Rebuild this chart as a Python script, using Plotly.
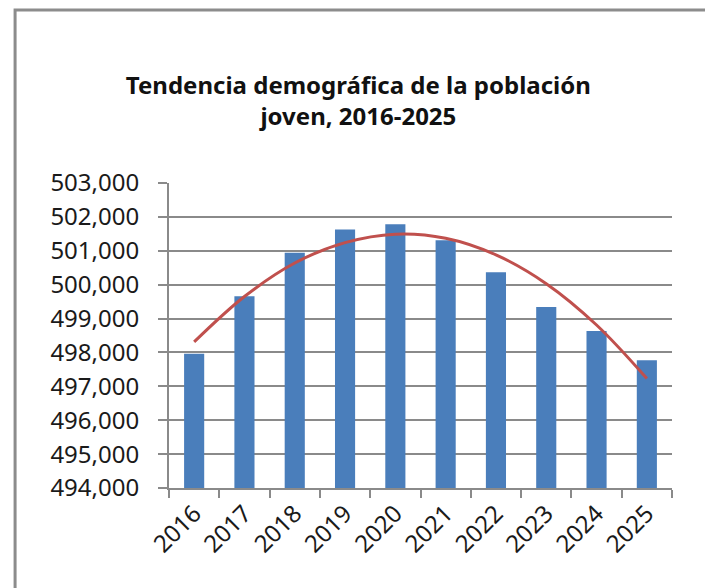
import plotly.graph_objects as go

years = ["2016", "2017", "2018", "2019", "2020", "2021", "2022", "2023", "2024", "2025"]
poblacion = [497960, 499660, 500940, 501630, 501780, 501310, 500370, 499340, 498630, 497770]
# polynomial trend line at each year
tendencia = [498310, 499650, 500640, 501240, 501490, 501370, 500880, 500030, 498810, 497230]

y_ticks = list(range(494000, 503001, 1000))

fig = go.Figure()
fig.add_trace(go.Bar(x=years, y=poblacion, marker_color="#4A7EBB",
                     marker_line_width=0, name="Población"))
fig.add_trace(go.Scatter(x=years, y=tendencia, mode="lines", line_shape="spline",
                         line=dict(color="#C0504D", width=3), name="Tendencia"))

# page body has an 8px margin, so the figure is drawn 8px smaller
fig.update_layout(
    width=705, height=580,
    margin=dict(l=161, r=41, t=175, b=100),
    paper_bgcolor="white", plot_bgcolor="white",
    showlegend=False,
    bargap=0.6,
    font=dict(family="Noto Sans", color="#1a1a1a"),
    title=dict(text="Tendencia demográfica de la población<br>joven, 2016-2025",
               x=0.497, xanchor="center", y=0.852, yanchor="middle",
               font=dict(size=24, weight="bold", color="#111")),
    shapes=[dict(type="rect", xref="paper", yref="paper",
                 x0=-0.306, x1=1.0716, y0=-0.4, y1=1.567,
                 line=dict(color="#8c8c8c", width=3), layer="below")],
)

fig.update_yaxes(range=[494000, 503000], tickvals=y_ticks, tickformat=",",
                 showgrid=True, gridcolor="#8a8a8a", gridwidth=1.5,
                 showline=True, linecolor="#8a8a8a", linewidth=2,
                 ticks="outside", ticklen=9, tickcolor="#8a8a8a", tickwidth=2,
                 ticklabelstandoff=14, tickfont=dict(size=24))
fig.update_xaxes(type="category", tickangle=-45, tickson="boundaries",
                 showline=True, linecolor="#8a8a8a", linewidth=2,
                 ticks="outside", ticklen=8, tickcolor="#8a8a8a", tickwidth=2,
                 tickfont=dict(size=24))

fig.write_html("out.html")
